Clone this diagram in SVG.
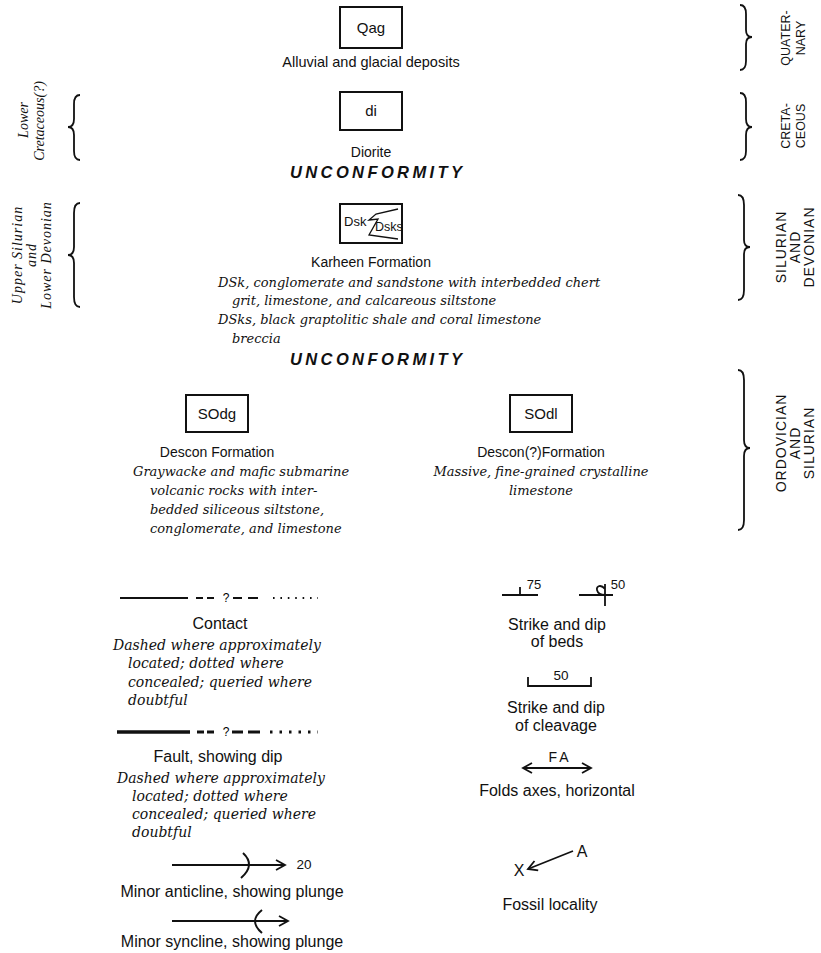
<svg xmlns="http://www.w3.org/2000/svg" width="821" height="953" viewBox="0 0 821 953">
<defs>
<style>
.s{font-family:"Liberation Sans",Arial,sans-serif;font-size:14px;fill:#111;text-anchor:middle}
.l{font-family:"Liberation Sans",Arial,sans-serif;font-size:15px;fill:#111;text-anchor:middle}
.g{font-family:"Liberation Sans",Arial,sans-serif;font-size:16px;fill:#111;text-anchor:middle}
.i{font-family:"DejaVu Serif","Liberation Serif",serif;font-style:italic;font-size:13px;fill:#111}
.j{font-family:"DejaVu Serif","Liberation Serif",serif;font-style:italic;font-size:14px;fill:#111}
.u{font-family:"Liberation Sans",Arial,sans-serif;font-weight:bold;font-style:italic;font-size:16.5px;fill:#111;text-anchor:middle}
.r{font-family:"Liberation Sans",Arial,sans-serif;font-size:12.5px;fill:#111;text-anchor:middle;dominant-baseline:central}
.r3{font-family:"Liberation Sans",Arial,sans-serif;font-size:14px;fill:#111;text-anchor:middle;dominant-baseline:central;letter-spacing:1px}
.ri{font-family:"Liberation Serif",serif;font-style:italic;font-size:14px;fill:#111;text-anchor:middle;dominant-baseline:central}
.box{fill:#fff;stroke:#111;stroke-width:2}
.br{fill:none;stroke:#111;stroke-width:1.8}
.ln{fill:none;stroke:#111;stroke-width:1.8}
</style>
<marker id="ah" markerWidth="12" markerHeight="12" refX="10" refY="6" orient="auto" markerUnits="userSpaceOnUse">
<path d="M1,1 L10,6 L1,11" fill="none" stroke="#111" stroke-width="1.8"/>
</marker>
<marker id="ahs" markerWidth="12" markerHeight="12" refX="10" refY="6" orient="auto-start-reverse" markerUnits="userSpaceOnUse">
<path d="M1,1 L10,6 L1,11" fill="none" stroke="#111" stroke-width="1.8"/>
</marker>
</defs>
<rect width="821" height="953" fill="#fff"/>

<g id="qag">
<rect class="box" x="340" y="7" width="62" height="41"/>
<text class="l" x="371" y="33">Qag</text>
<text class="s" x="371" y="67" style="font-size:14.5px">Alluvial and glacial deposits</text>
</g>
<g id="di">
<rect class="box" x="340" y="92" width="62" height="38"/>
<text class="l" x="371" y="116">di</text>
<text class="s" x="371" y="157">Diorite</text>
</g>
<g id="unconformity1"><text class="u" x="376" y="178" textLength="172" lengthAdjust="spacing">UNCONFORMITY</text></g>
<g id="dsk">
<rect class="box" x="340" y="204" width="62" height="39"/>
<text class="s" x="344" y="226" style="text-anchor:start;font-size:13px">Dsk</text>
<path class="ln" style="stroke-width:1.3" d="M398,209 L376,214 L369,220 L378,219 L369,235 L398,239"/>
<text class="s" x="375" y="231" style="text-anchor:start;font-size:12.5px">Dsks</text>
<text class="s" x="371" y="267">Karheen Formation</text>
<text class="i" x="218" y="287">DSk, conglomerate and sandstone with interbedded chert</text>
<text class="i" x="232" y="305">grit, limestone, and calcareous siltstone</text>
<text class="i" x="218" y="324">DSks, black graptolitic shale and coral limestone</text>
<text class="i" x="232" y="343">breccia</text>
</g>
<g id="unconformity2"><text class="u" x="376" y="365" textLength="172" lengthAdjust="spacing">UNCONFORMITY</text></g>
<g id="sodg">
<rect class="box" x="186" y="395" width="62" height="37"/>
<text class="l" x="217" y="419">SOdg</text>
<text class="s" x="217" y="457">Descon Formation</text>
<text class="i" x="133" y="476">Graywacke and mafic submarine</text>
<text class="i" x="150" y="495">volcanic rocks with inter-</text>
<text class="i" x="150" y="514">bedded siliceous siltstone,</text>
<text class="i" x="150" y="533">conglomerate, and limestone</text>
</g>
<g id="sodl">
<rect class="box" x="510" y="395" width="62" height="37"/>
<text class="l" x="541" y="419">SOdl</text>
<text class="s" x="541" y="457">Descon(?)Formation</text>
<text class="i" x="541" y="476" style="text-anchor:middle">Massive, fine-grained crystalline</text>
<text class="i" x="541" y="495" style="text-anchor:middle">limestone</text>
</g>

<g id="age-right">
<path class="br" d="M740,5 Q746,5 746,14 L746,30 Q746,37 752,37 Q746,37 746,44 L746,61 Q746,70 740,70"/>
<text class="r" transform="translate(786,38) rotate(-90)">QUATER-</text>
<text class="r" transform="translate(801,38) rotate(-90)">NARY</text>
<path class="br" d="M740,93 Q746,93 746,102 L746,119 Q746,127 752,127 Q746,127 746,135 L746,151 Q746,160 740,160"/>
<text class="r" transform="translate(786,126) rotate(-90)">CRETA-</text>
<text class="r" transform="translate(801,126) rotate(-90)">CEOUS</text>
<path class="br" d="M738,195 Q744,195 744,205 L744,240 Q744,247 750,247 Q744,247 744,254 L744,290 Q744,300 738,300"/>
<text class="r3" transform="translate(781,247) rotate(-90)">SILURIAN</text>
<text class="r3" transform="translate(795,247) rotate(-90)">AND</text>
<text class="r3" transform="translate(809,247) rotate(-90)">DEVONIAN</text>
<path class="br" d="M738,370 Q744,370 744,380 L744,440 Q744,448 750,448 Q744,448 744,456 L744,520 Q744,530 738,530"/>
<text class="r3" transform="translate(781,443) rotate(-90)">ORDOVICIAN</text>
<text class="r3" transform="translate(795,443) rotate(-90)">AND</text>
<text class="r3" transform="translate(809,443) rotate(-90)">SILURIAN</text>
</g>
<g id="age-left">
<path class="br" d="M80,95 Q74,95 74,104 L74,119 Q74,127 68,127 Q74,127 74,135 L74,151 Q74,160 80,160"/>
<text class="ri" transform="translate(23,120) rotate(-90)">Lower</text>
<text class="ri" transform="translate(39,121) rotate(-90)">Cretaceous(?)</text>
<path class="br" d="M80,203 Q74,203 74,213 L74,247 Q74,255 68,255 Q74,255 74,263 L74,297 Q74,307 80,307"/>
<text class="ri" style="letter-spacing:1px" transform="translate(17,255) rotate(-90)">Upper Silurian</text>
<text class="ri" style="letter-spacing:1px" transform="translate(31,255) rotate(-90)">and</text>
<text class="ri" style="letter-spacing:1px" transform="translate(46,255) rotate(-90)">Lower Devonian</text>
</g>

<g id="connectors">
<g id="contact-line">
<path d="M120,598 H188" stroke="#111" stroke-width="2.2"/>
<path d="M196,598 H203 M207,598 H214 M233,598 H242 M248,598 H258" stroke="#111" stroke-width="1.8"/>
<path d="M273,598 H318" stroke="#111" stroke-width="2" stroke-dasharray="1.6 5.8"/>
</g>
<g id="fault-line">
<path d="M117,732 H190" stroke="#111" stroke-width="3.5"/>
<path d="M197,732 H204 M207,732 H214 M232,732 H243 M248,732 H260" stroke="#111" stroke-width="3"/>
<path d="M270,732 H318" stroke="#111" stroke-width="3" stroke-dasharray="2.5 7"/>
</g>
<path class="ln" d="M172,865 H285" marker-end="url(#ah)"/>
<path class="ln" style="stroke-width:2" d="M243,853 Q256,865 241,878"/>
<path class="ln" d="M172,921 H288" marker-end="url(#ah)"/>
<path class="ln" style="stroke-width:2" d="M262,910 Q248,921 262,933"/>
<path class="ln" d="M502,595 H538 M520,595 V587"/>
<path class="ln" d="M579,595 H613 M605,584 V606 M605,589 C601,584 596,586 597,590 C598,594 601,595 605,595"/>
<path class="ln" d="M528,677 V686 H591 V677"/>
<path class="ln" d="M523,768 H591" marker-start="url(#ahs)" marker-end="url(#ah)"/>
<path class="ln" d="M573,851 L528,869" marker-end="url(#ah)"/>
</g>

<g id="legend-left">
<text x="226" y="602" style="font-family:'Liberation Sans',sans-serif;font-size:12px;text-anchor:middle">?</text>
<text class="g" x="220" y="629">Contact</text>
<text class="j" x="113" y="650">Dashed where approximately</text>
<text class="j" x="128" y="668">located; dotted where</text>
<text class="j" x="128" y="687">concealed; queried where</text>
<text class="j" x="128" y="705">doubtful</text>
<text x="226" y="736" style="font-family:'Liberation Sans',sans-serif;font-size:12px;text-anchor:middle">?</text>
<text class="g" x="218" y="762">Fault, showing dip</text>
<text class="j" x="117" y="783">Dashed where approximately</text>
<text class="j" x="132" y="801">located; dotted where</text>
<text class="j" x="132" y="819">concealed; queried where</text>
<text class="j" x="132" y="837">doubtful</text>
<text class="l" x="304" y="869" style="font-size:13.5px">20</text>
<text class="g" x="232" y="897">Minor anticline, showing plunge</text>
<text class="g" x="232" y="947">Minor syncline, showing plunge</text>
</g>
<g id="legend-right">
<text class="l" x="534" y="589" style="font-size:13px">75</text>
<text class="l" x="618" y="589" style="font-size:13px">50</text>
<text class="g" x="557" y="630">Strike and dip</text>
<text class="g" x="557" y="647">of beds</text>
<text class="l" x="561" y="680" style="font-size:13.5px">50</text>
<text class="g" x="556" y="713">Strike and dip</text>
<text class="g" x="556" y="731">of cleavage</text>
<text class="l" x="560" y="762" style="font-size:14px;letter-spacing:3px">FA</text>
<text class="g" x="557" y="796">Folds axes, horizontal</text>
<text class="g" x="582" y="857">A</text>
<text class="g" x="519" y="876">X</text>
<text class="g" x="550" y="910">Fossil locality</text>
</g>
</svg>
